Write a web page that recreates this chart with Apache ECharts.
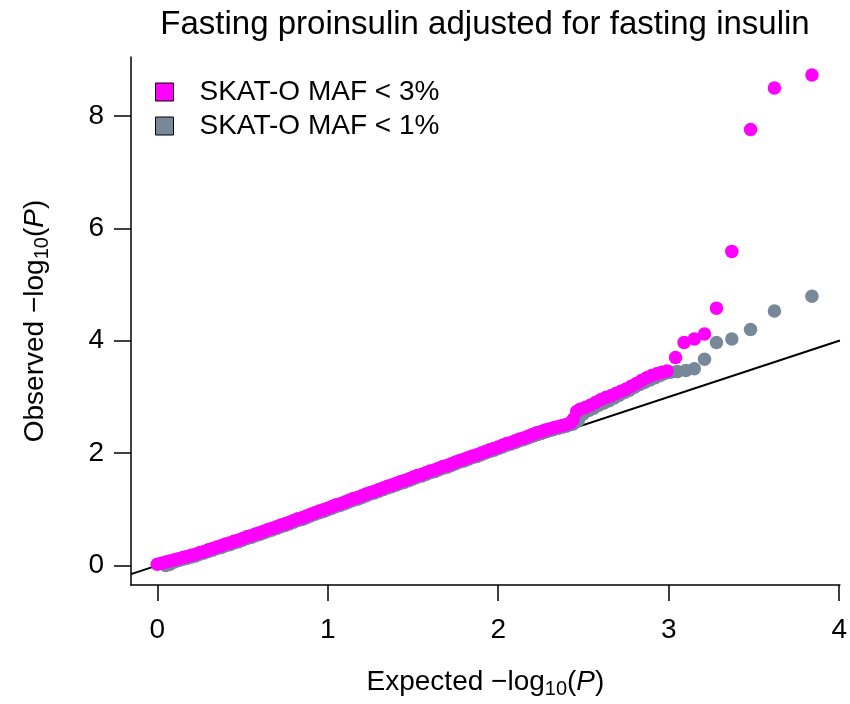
<!DOCTYPE html>
<html><head><meta charset="utf-8">
<script src="https://cdn.jsdelivr.net/npm/echarts@6/dist/echarts.min.js"></script>
<style>html,body{margin:0;padding:0;background:#fff}#c{width:850px;height:704px}</style>
</head><body><div id="c"></div>
<script>
const titleText = 'Fasting proinsulin adjusted for fasting insulin';
const seriesNames = ['SKAT-O MAF < 3%', 'SKAT-O MAF < 1%'];
const xTicks = [0, 1, 2, 3, 4];
const yTicks = [0, 2, 4, 6, 8];

const expMagenta = [0,0.025,0.05,0.075,0.1,0.125,0.15,0.175,0.2,0.225,
0.25,0.275,0.3,0.325,0.35,0.375,0.4,0.425,0.45,0.475,
0.5,0.525,0.55,0.575,0.6,0.625,0.65,0.675,0.7,0.725,
0.75,0.775,0.8,0.825,0.85,0.875,0.9,0.925,0.95,0.975,
1.0,1.025,1.05,1.075,1.1,1.125,1.15,1.175,1.2,1.225,
1.25,1.275,1.3,1.325,1.35,1.375,1.4,1.425,1.45,1.475,
1.5,1.525,1.55,1.575,1.6,1.625,1.65,1.675,1.7,1.725,
1.75,1.775,1.8,1.825,1.85,1.875,1.9,1.925,1.95,1.975,
2.0,2.025,2.05,2.075,2.1,2.125,2.15,2.175,2.2,2.225,
2.25,2.275,2.3,2.325,2.35,2.375,2.4,2.425,
2.44,2.46,2.48,2.51,2.54,2.57,2.60,2.63,2.66,2.69,2.72,2.75,2.78,2.81,2.84,2.87,2.90,2.93,2.96,2.99,
3.04,3.09,3.15,3.21,3.28,3.37,3.48,3.62,3.84];
const obsMagenta = [0.02,0.04,0.06,0.08,0.10,0.12,0.14,0.16,0.18,0.20,
0.23,0.25,0.28,0.30,0.33,0.35,0.38,0.40,0.43,0.45,
0.48,0.51,0.53,0.56,0.58,0.61,0.64,0.66,0.69,0.72,
0.74,0.77,0.80,0.83,0.85,0.88,0.91,0.94,0.97,0.99,
1.02,1.05,1.08,1.10,1.13,1.16,1.19,1.21,1.24,1.27,
1.30,1.32,1.35,1.38,1.41,1.43,1.46,1.49,1.51,1.54,
1.57,1.60,1.62,1.65,1.68,1.70,1.73,1.76,1.78,1.81,
1.84,1.87,1.89,1.92,1.95,1.97,2.00,2.03,2.06,2.08,
2.11,2.14,2.17,2.19,2.22,2.25,2.27,2.30,2.33,2.36,
2.38,2.41,2.43,2.45,2.47,2.49,2.51,2.54,
2.60,2.74,2.78,2.81,2.85,2.90,2.95,2.99,3.02,3.06,3.10,3.14,3.19,3.24,3.29,3.34,3.38,3.41,3.44,3.46,
3.70,3.97,4.03,4.12,4.58,5.59,7.76,8.50,8.73];

const expGray = [0.05,0.075,0.1,0.125,0.15,0.175,0.2,0.225,
0.25,0.275,0.3,0.325,0.35,0.375,0.4,0.425,0.45,0.475,
0.5,0.525,0.55,0.575,0.6,0.625,0.65,0.675,0.7,0.725,
0.75,0.775,0.8,0.825,0.85,0.875,0.9,0.925,0.95,0.975,
1.0,1.025,1.05,1.075,1.1,1.125,1.15,1.175,1.2,1.225,
1.25,1.275,1.3,1.325,1.35,1.375,1.4,1.425,1.45,1.475,
1.5,1.525,1.55,1.575,1.6,1.625,1.65,1.675,1.7,1.725,
1.75,1.775,1.8,1.825,1.85,1.875,1.9,1.925,1.95,1.975,
2.0,2.025,2.05,2.075,2.1,2.125,2.15,2.175,2.2,2.225,
2.25,2.275,2.3,2.325,2.35,2.375,2.4,2.425,
2.44,2.47,2.50,2.53,2.56,2.59,2.62,2.65,2.68,2.71,2.74,2.77,2.80,2.83,2.86,2.89,2.92,2.95,2.98,3.01,
3.05,3.10,3.15,3.21,3.28,3.37,3.48,3.62,3.84];
const obsGray = [0.00,0.02,0.06,0.09,0.11,0.13,0.15,0.17,
0.20,0.22,0.25,0.27,0.30,0.32,0.35,0.37,0.40,0.42,
0.45,0.48,0.50,0.53,0.55,0.58,0.61,0.63,0.66,0.69,
0.71,0.74,0.77,0.80,0.82,0.85,0.88,0.91,0.94,0.96,
0.99,1.02,1.05,1.07,1.10,1.13,1.16,1.18,1.21,1.24,
1.27,1.29,1.32,1.35,1.38,1.40,1.43,1.46,1.48,1.51,
1.54,1.57,1.59,1.62,1.65,1.67,1.70,1.73,1.75,1.78,
1.81,1.84,1.86,1.89,1.92,1.94,1.97,2.00,2.03,2.05,
2.08,2.11,2.14,2.16,2.19,2.22,2.24,2.27,2.30,2.33,
2.35,2.38,2.40,2.42,2.44,2.46,2.48,2.51,
2.52,2.58,2.70,2.76,2.80,2.85,2.89,2.93,2.98,3.03,3.08,3.12,3.17,3.22,3.26,3.30,3.34,3.38,3.42,3.44,
3.45,3.47,3.50,3.67,3.97,4.03,4.20,4.53,4.79];

const refLineX = [-0.154, 4.004];
const refLineY = [-0.154, 4.004];

const zip = (a, b) => a.map((v, i) => [v, b[i]]);
const FONT = '"Liberation Sans", Arial, Helvetica, sans-serif';
const base = {fontFamily: FONT, fontSize: 28, color: '#000'};
const rich = {
  a: {fontFamily: FONT, fontSize: 28, color: '#000'},
  s: {fontFamily: FONT, fontSize: 20, color: '#000', padding: [14, 0, 0, 0]},
  i: {fontFamily: FONT, fontSize: 28, color: '#000', fontStyle: 'italic'}
};

const chart = echarts.init(document.getElementById('c'), null, {renderer: 'canvas'});
chart.setOption({
  animation: false,
  backgroundColor: '#fff',
  title: {text: titleText, left: 480, top: 3, textAlign: 'center',
    textStyle: {fontFamily: FONT, fontSize: 33, fontWeight: 'normal', color: '#000'}},
  legend: {
    data: seriesNames, orient: 'vertical', left: 150, top: 73, itemGap: 6,
    icon: 'rect', itemWidth: 18, itemHeight: 18,
    itemStyle: {borderColor: '#000', borderWidth: 1},
    textStyle: Object.assign({}, base, {padding: [0, 0, 0, 21]})
  },
  grid: {left: 131, top: 57, width: 709, height: 528, containLabel: false},
  xAxis: {
    type: 'value', min: -0.154, max: 4.004,
    name: '{a|Expected −log}{s|10}{a|(}{i|P}{a|)}', nameLocation: 'middle', nameGap: 80,
    nameTextStyle: {rich: rich},
    axisLine: {onZero: false, lineStyle: {color: '#000', width: 1.5}},
    axisTick: {customValues: xTicks, length: 16, lineStyle: {color: '#000', width: 1.5}},
    axisLabel: Object.assign({customValues: xTicks, margin: 31}, base),
    splitLine: {show: false}
  },
  yAxis: {
    type: 'value', min: -0.348, max: 9.05,
    name: '{a|Observed −log}{s|10}{a|(}{i|P}{a|)}', nameLocation: 'middle', nameGap: 79,
    nameTextStyle: {rich: rich},
    axisLine: {onZero: false, lineStyle: {color: '#000', width: 1.5}},
    axisTick: {customValues: yTicks, length: 17, lineStyle: {color: '#000', width: 1.5}},
    axisLabel: Object.assign({customValues: yTicks, margin: 27}, base),
    splitLine: {show: false}
  },
  series: [
    {type: 'line', name: 'ref', data: zip(refLineX, refLineY), symbol: 'none',
      lineStyle: {color: '#000', width: 2}, silent: true, z: 1},
    {type: 'scatter', name: seriesNames[1], data: zip(expGray, obsGray), symbolSize: 13.5,
      itemStyle: {color: '#778899', opacity: 1}, z: 2},
    {type: 'scatter', name: seriesNames[0], data: zip(expMagenta, obsMagenta), symbolSize: 13.5,
      itemStyle: {color: '#FF00FF', opacity: 1}, z: 3}
  ]
});
</script></body></html>
